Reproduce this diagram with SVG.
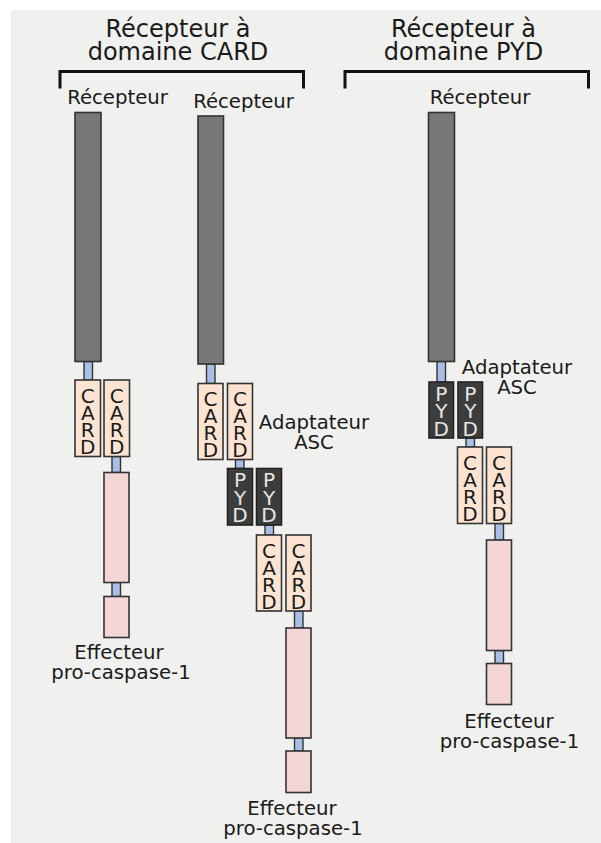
<svg xmlns="http://www.w3.org/2000/svg" width="601" height="843" viewBox="0 0 601 843">
<style>
text{font-family:"DejaVu Sans","Noto Sans",sans-serif;fill:#1a1a1a}
.h{font-size:24px;text-anchor:middle}
.l{font-size:19.7px;text-anchor:middle}
.rec{fill:#777777;stroke:#333333;stroke-width:1.6}
.lk{fill:#a9bfe5;stroke:#333333;stroke-width:1.4}
.card{fill:#fde4d2;stroke:#333333;stroke-width:1.6}
.pyd{fill:#3c3c3c;stroke:#222222;stroke-width:1.6}
.pk{fill:#f5d6d6;stroke:#333333;stroke-width:1.6}
.ct{font-size:20px;text-anchor:middle;fill:#1a1a1a}
.pt{font-size:20px;text-anchor:middle;fill:#e6e6e6}
.br{fill:none;stroke:#111111;stroke-width:3}
</style>
<rect x="11" y="10" width="590" height="833" fill="#f0f0ee"/>
<g id="headers">
<text class="h" x="178" y="37">Récepteur à</text>
<text class="h" x="178" y="59.5">domaine CARD</text>
<text class="h" x="463.5" y="37">Récepteur à</text>
<text class="h" x="463.5" y="59.5">domaine PYD</text>
</g>
<g id="connectors">
<path class="br" d="M60,88.5 V71.5 H303.5 V88.5"/>
<path class="br" d="M345,88.5 V71.5 H588.5 V88.5"/>
<rect class="lk" x="84" y="361.5" width="8.5" height="18.5"/>
<rect class="lk" x="112" y="456.5" width="8.5" height="16"/>
<rect class="lk" x="112" y="582.5" width="8.5" height="14"/>
<rect class="lk" x="206.5" y="364" width="8.5" height="19.5"/>
<rect class="lk" x="235.5" y="459.5" width="8.5" height="9"/>
<rect class="lk" x="265" y="525" width="8.5" height="10"/>
<rect class="lk" x="294.5" y="611" width="8.5" height="17"/>
<rect class="lk" x="294.5" y="738" width="8.5" height="13"/>
<rect class="lk" x="437" y="361.5" width="8.5" height="20.5"/>
<rect class="lk" x="466" y="438" width="8.5" height="9"/>
<rect class="lk" x="495" y="523.5" width="8.5" height="16.5"/>
<rect class="lk" x="495" y="650.5" width="8.5" height="13"/>
</g>
<g id="col1">
<text class="l" x="117.5" y="104">Récepteur</text>
<rect class="rec" x="75" y="112.5" width="26" height="249"/>
<rect class="card" x="75" y="380" width="25.5" height="76.5"/>
<text class="ct" x="87.75" y="402.5">C</text><text class="ct" x="87.75" y="419.5">A</text><text class="ct" x="87.75" y="436.5">R</text><text class="ct" x="87.75" y="453.5">D</text>
<rect class="card" x="104" y="380" width="25.5" height="76.5"/>
<text class="ct" x="116.75" y="402.5">C</text><text class="ct" x="116.75" y="419.5">A</text><text class="ct" x="116.75" y="436.5">R</text><text class="ct" x="116.75" y="453.5">D</text>
<rect class="pk" x="104" y="472.5" width="25" height="110"/>
<rect class="pk" x="104" y="596.5" width="25" height="41"/>
<text class="l" x="119" y="659">Effecteur</text>
<text class="l" x="121" y="679">pro-caspase-1</text>
</g>
<g id="col2">
<text class="l" x="243.5" y="108">Récepteur</text>
<rect class="rec" x="198" y="116" width="25.5" height="248"/>
<rect class="card" x="198" y="383.5" width="25" height="76"/>
<text class="ct" x="210.5" y="406">C</text><text class="ct" x="210.5" y="423">A</text><text class="ct" x="210.5" y="440">R</text><text class="ct" x="210.5" y="457">D</text>
<rect class="card" x="227.5" y="383.5" width="25" height="76"/>
<text class="ct" x="240" y="406">C</text><text class="ct" x="240" y="423">A</text><text class="ct" x="240" y="440">R</text><text class="ct" x="240" y="457">D</text>
<text class="l" x="314" y="428.5">Adaptateur</text>
<text class="l" x="314" y="449">ASC</text>
<rect class="pyd" x="227.5" y="468.5" width="25" height="56.5"/>
<text class="pt" x="240" y="487">P</text><text class="pt" x="240" y="504.5">Y</text><text class="pt" x="240" y="522">D</text>
<rect class="pyd" x="256.5" y="468.5" width="25" height="56.5"/>
<text class="pt" x="269" y="487">P</text><text class="pt" x="269" y="504.5">Y</text><text class="pt" x="269" y="522">D</text>
<rect class="card" x="256.5" y="535" width="25" height="76"/>
<text class="ct" x="269" y="557.5">C</text><text class="ct" x="269" y="574.5">A</text><text class="ct" x="269" y="591.5">R</text><text class="ct" x="269" y="608.5">D</text>
<rect class="card" x="286" y="535" width="25" height="76"/>
<text class="ct" x="298.5" y="557.5">C</text><text class="ct" x="298.5" y="574.5">A</text><text class="ct" x="298.5" y="591.5">R</text><text class="ct" x="298.5" y="608.5">D</text>
<rect class="pk" x="286" y="628" width="25" height="110"/>
<rect class="pk" x="286" y="751" width="25" height="41.5"/>
<text class="l" x="292" y="815">Effecteur</text>
<text class="l" x="293" y="835">pro-caspase-1</text>
</g>
<g id="col3">
<text class="l" x="480" y="104">Récepteur</text>
<rect class="rec" x="428.5" y="112.5" width="26" height="249"/>
<rect class="pyd" x="429" y="382" width="24.5" height="56"/>
<text class="pt" x="441.25" y="400.5">P</text><text class="pt" x="441.25" y="418">Y</text><text class="pt" x="441.25" y="435.5">D</text>
<rect class="pyd" x="458" y="382" width="24.5" height="56"/>
<text class="pt" x="470.25" y="400.5">P</text><text class="pt" x="470.25" y="418">Y</text><text class="pt" x="470.25" y="435.5">D</text>
<text class="l" x="517" y="373.5">Adaptateur</text>
<text class="l" x="517" y="393.5">ASC</text>
<rect class="card" x="457.5" y="447" width="25" height="76.5"/>
<text class="ct" x="470" y="469.5">C</text><text class="ct" x="470" y="486.5">A</text><text class="ct" x="470" y="503.5">R</text><text class="ct" x="470" y="520.5">D</text>
<rect class="card" x="486.5" y="447" width="25" height="76.5"/>
<text class="ct" x="499" y="469.5">C</text><text class="ct" x="499" y="486.5">A</text><text class="ct" x="499" y="503.5">R</text><text class="ct" x="499" y="520.5">D</text>
<rect class="pk" x="486.5" y="540" width="25" height="110.5"/>
<rect class="pk" x="486.5" y="663.5" width="25" height="41"/>
<text class="l" x="509" y="727.5">Effecteur</text>
<text class="l" x="509.5" y="747.5">pro-caspase-1</text>
</g>
</svg>
